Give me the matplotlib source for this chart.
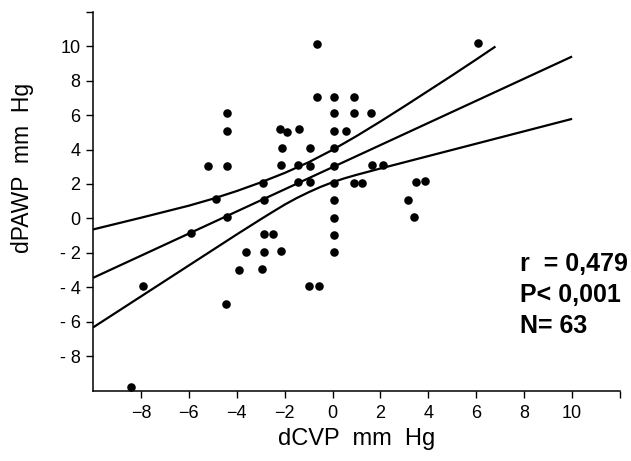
import matplotlib
matplotlib.use("Agg")
import matplotlib.pyplot as plt

plt.rcParams['font.family'] = ['Liberation Sans', 'DejaVu Sans']

# scatter data: dCVP (x) vs dPAWP (y), mm Hg
dcvp = [-8.4, -7.9, -5.9, -5.2, -4.87, -4.4, -4.4, -4.4, -4.4, -4.43,
        -3.91, -3.6, -2.9, -2.88, -2.86, -2.49, -2.86, -2.93,
        -2.21, -1.9, -1.41, -2.1, -2.15, -2.15, -1.45, -1.45,
        -0.93, -0.93, -0.93, -0.97, -0.55, -0.65, -0.65,
        0.07, 0.07, 0.07, 0.07, 0.07, 0.07, 0.07, 0.07, 0.07, 0.07,
        0.58, 0.9, 0.9, 0.9, 1.22, 1.6, 1.65, 2.12,
        3.16, 3.42, 3.49, 3.87, 6.08]
dpawp = [-9.8, -3.9, -0.87, 3.04, 1.1, 6.1, 5.1, 3.05, 0.1, -4.94,
         -2.97, -1.92, 2.07, 1.05, -0.89, -0.89, -1.92, -2.95,
         5.17, 5.0, 5.17, 4.07, 3.1, -1.9, 3.1, 2.13,
         4.07, 3.04, 2.13, -3.94, -3.94, 10.1, 7.05,
         7.05, 6.1, 5.1, 4.07, 3.05, 2.07, 1.07, 0.05, -0.95, -1.95,
         5.07, 7.05, 6.1, 2.07, 2.07, 6.1, 3.1, 3.13,
         1.06, 0.07, 2.13, 2.2, 10.2]

# regression line (read end points)
reg_x = [-10, 10]
reg_y = [-3.45, 9.4]

# confidence band curves
upper_x = [-10, -8, -6, -5, -4, -3, -2, -1, 0, 1, 2, 3, 4, 5, 6, 6.8]
upper_y = [-0.64, 0.04, 0.74, 1.14, 1.59, 2.09, 2.64, 3.26, 3.98, 4.78,
           5.63, 6.51, 7.41, 8.31, 9.23, 9.98]
lower_x = [-10, -8, -6, -4, -3, -2.5, -2, -1.5, -1, -0.5, 0, 0.5, 1, 2,
           4, 6, 8, 10]
lower_y = [-6.33, -4.53, -2.73, -0.93, -0.05, 0.38, 0.8, 1.18, 1.52, 1.83,
           2.1, 2.33, 2.53, 2.9, 3.62, 4.34, 5.06, 5.78]

x_ticks = [-8, -6, -4, -2, 0, 2, 4, 6, 8, 10, 12]
x_ticklabels = ['\u22128', '\u22126', '\u22124', '\u22122', '0', '2', '4', '6', '8', '10', '']
y_ticks = [-8, -6, -4, -2, 0, 2, 4, 6, 8, 10, 12]
y_ticklabels = ['- 8', '- 6', '- 4', '- 2', '0', '2', '4', '6', '8', '10', '']

stats_text = ['r  = 0,479', 'P< 0,001', 'N= 63']

fig = plt.figure(figsize=(6.31, 4.61), dpi=100)
ax = fig.add_axes([0.1474, 0.1525, 0.8352, 0.8221])

ax.plot(reg_x, reg_y, color='black', lw=1.6, solid_capstyle='butt')
ax.plot(upper_x, upper_y, color='black', lw=1.6, solid_capstyle='butt')
ax.plot(lower_x, lower_y, color='black', lw=1.6, solid_capstyle='butt')
ax.scatter(dcvp, dpawp, s=38, color='black', zorder=3, linewidths=0)

ax.set_xlim(-10, 12)
ax.set_ylim(-10, 12)
ax.spines['top'].set_visible(False)
ax.spines['right'].set_visible(False)
for s in ['left', 'bottom']:
    ax.spines[s].set_linewidth(1.1)

ax.set_xticks(x_ticks)
ax.set_xticklabels(x_ticklabels)
ax.set_yticks(y_ticks)
ax.set_yticklabels(y_ticklabels)
ax.tick_params(axis='both', direction='out', length=5, width=1.0, labelsize=13, pad=4)
ax.tick_params(axis='x', pad=5)

ax.set_xlabel('dCVP  mm  Hg', fontsize=17)
ax.xaxis.set_label_coords(0.5, -0.098)
ax.xaxis.label.set_va('top')
ax.set_ylabel('dPAWP  mm  Hg', fontsize=16.5)
ax.yaxis.set_label_coords(-0.133, 0.588)
ax.yaxis.label.set_va('center')

for i, t in enumerate(stats_text):
    ax.text(0.824, 0.412 - i * 0.0675, t, transform=fig.transFigure,
            fontsize=18, fontweight='bold', ha='left', va='baseline')

fig.savefig('out.png', dpi=100, facecolor='white')
